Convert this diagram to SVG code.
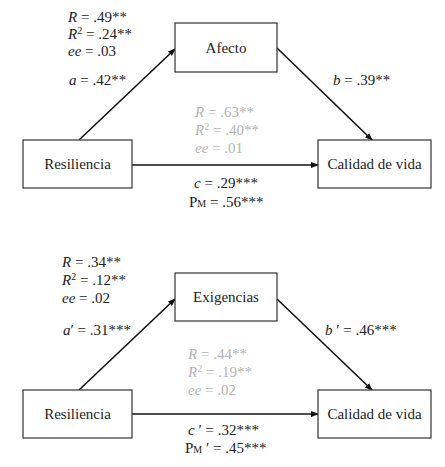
<svg xmlns="http://www.w3.org/2000/svg" width="445" height="467" viewBox="0 0 445 467">
<style>
text{font-family:'Liberation Serif','Tinos','Times New Roman','DejaVu Serif',serif;font-size:15px;fill:#222}
.g{fill:#b4b4b4}
.i{font-style:italic}
.box{fill:#fff;stroke:#333;stroke-width:1.2}
.lbl{text-anchor:middle}
.edge{stroke:#111;stroke-width:1.6;fill:none;marker-end:url(#ah)}
.sup{font-size:10px}
.sub{font-size:10px}
</style>
<defs>
<marker id="ah" markerWidth="8" markerHeight="6" refX="7" refY="3" orient="auto" markerUnits="userSpaceOnUse">
<path d="M0,0 L8,3 L0,6 z" fill="#111"/>
</marker>
</defs>
<rect width="445" height="467" fill="#fff"/>
<g id="connectors">
<line class="edge" x1="79" y1="140" x2="175" y2="49"/>
<line class="edge" x1="277" y1="48" x2="372" y2="140"/>
<line class="edge" x1="132" y1="165" x2="318" y2="165"/>
<line class="edge" x1="79" y1="390" x2="175" y2="299"/>
<line class="edge" x1="277" y1="299" x2="372" y2="390"/>
<line class="edge" x1="132" y1="414" x2="318" y2="414"/>
</g>
<g id="afecto"><rect class="box" x="175" y="23" width="102" height="49"/><text class="lbl" x="226" y="53">Afecto</text></g>
<g id="resiliencia1"><rect class="box" x="23" y="140" width="109" height="48"/><text class="lbl" x="77.5" y="169">Resiliencia</text></g>
<g id="calidad1"><rect class="box" x="318" y="140" width="113" height="48"/><text class="lbl" x="374.5" y="169">Calidad de vida</text></g>
<g id="exigencias"><rect class="box" x="175" y="273" width="102" height="48"/><text class="lbl" x="226" y="302">Exigencias</text></g>
<g id="resiliencia2"><rect class="box" x="23" y="390" width="109" height="48"/><text class="lbl" x="77.5" y="419">Resiliencia</text></g>
<g id="calidad2"><rect class="box" x="318" y="390" width="113" height="48"/><text class="lbl" x="374.5" y="419">Calidad de vida</text></g>
<g id="labels1">
<text x="68" y="22"><tspan class="i">R</tspan> = .49**</text>
<text x="68" y="39"><tspan class="i">R</tspan><tspan class="sup" dy="-5">2</tspan><tspan dy="5"> = .24**</tspan></text>
<text x="68" y="56"><tspan class="i">ee</tspan> = .03</text>
<text x="69" y="85"><tspan class="i">a</tspan> = .42**</text>
<text x="333" y="85"><tspan class="i">b</tspan> = .39**</text>
<text class="g" x="195" y="117"><tspan class="i">R</tspan> = .63**</text>
<text class="g" x="195" y="135"><tspan class="i">R</tspan><tspan class="sup" dy="-5">2</tspan><tspan dy="5"> = .40**</tspan></text>
<text class="g" x="195" y="153"><tspan class="i">ee</tspan> = .01</text>
<text x="194" y="188"><tspan class="i">c</tspan> = .29***</text>
<text x="189" y="207">P<tspan class="sub">M</tspan> = .56***</text>
</g>
<g id="labels2">
<text x="62" y="267"><tspan class="i">R</tspan> = .34**</text>
<text x="62" y="285"><tspan class="i">R</tspan><tspan class="sup" dy="-5">2</tspan><tspan dy="5"> = .12**</tspan></text>
<text x="62" y="303"><tspan class="i">ee</tspan> = .02</text>
<text x="63" y="335"><tspan class="i">a</tspan>′ = .31***</text>
<text x="325" y="335"><tspan class="i">b</tspan> ′ = .46***</text>
<text class="g" x="188" y="359"><tspan class="i">R</tspan> = .44**</text>
<text class="g" x="188" y="377"><tspan class="i">R</tspan><tspan class="sup" dy="-5">2</tspan><tspan dy="5"> = .19**</tspan></text>
<text class="g" x="188" y="395"><tspan class="i">ee</tspan> = .02</text>
<text x="188" y="435"><tspan class="i">c</tspan> ′ = .32***</text>
<text x="185" y="453">P<tspan class="sub">M</tspan> ′ = .45***</text>
</g>
</svg>
